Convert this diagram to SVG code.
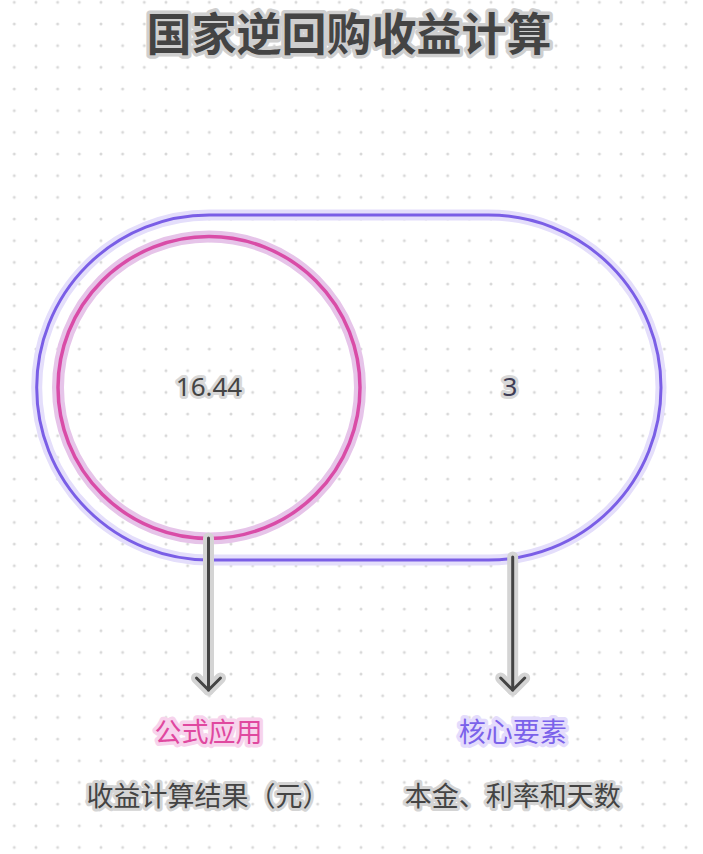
<svg xmlns="http://www.w3.org/2000/svg" width="703" height="854" viewBox="0 0 703 854">
<defs>
<pattern id="dots" patternUnits="userSpaceOnUse" x="3.47" y="-8.53" width="21.67" height="21.67">
<circle cx="10.83" cy="10.83" r="1.5" fill="#d8d8d8"/>
</pattern>
<style>
.t{font-family:"Noto Sans","Noto Sans CJK SC",sans-serif;text-anchor:middle;paint-order:stroke;stroke-linejoin:round}
.title{font-family:"Noto Sans CJK SC",sans-serif;font-weight:bold;font-size:45px;fill:#444;stroke:#cfcfcf;stroke-width:7px}
.num{font-size:26px;fill:#444;stroke:#d8d8d8;stroke-width:6px}
.lab{font-family:"Noto Sans CJK SC",sans-serif;font-size:27px}
.desc{fill:#444;stroke:#d4d4d4;stroke-width:6px}
.halo{fill:none;stroke-linecap:round;stroke-linejoin:round}
</style>
</defs>
<rect width="703" height="854" fill="#ffffff"/>
<rect width="703" height="854" fill="url(#dots)"/>
<text class="t title" x="349" y="51">国家逆回购收益计算</text>
<g id="outer">
<rect x="36.7" y="215" width="624.3" height="345" rx="172.5" fill="none" stroke="#e4defb" stroke-width="11"/>
<rect x="36.7" y="215" width="624.3" height="345" rx="172.5" fill="none" stroke="#7a5ee6" stroke-width="3"/>
<text class="t num" x="510" y="396" style="fill:#3f3d56">3</text>
</g>
<g id="inner">
<circle cx="209" cy="387.5" r="151" fill="none" stroke="#e6c4e9" stroke-width="12"/>
<circle cx="209" cy="387.5" r="151" fill="none" stroke="#d94ca7" stroke-width="3.5"/>
<text class="t num" x="209" y="396">16.44</text>
</g>
<g id="connectors">
<g class="halo" stroke="#d4d4d4" stroke-width="11">
<path d="M208.5 538V690"/>
<path d="M196.5 678L208.5 690L220.5 678"/>
<path d="M512.7 557V690"/>
<path d="M500.7 678L512.7 690L524.7 678"/>
</g>
<g class="halo" stroke="#444444" stroke-width="3">
<path d="M208.5 538V690"/>
<path d="M196.5 678L208.5 690L220.5 678"/>
<path d="M512.7 557V690"/>
<path d="M500.7 678L512.7 690L524.7 678"/>
</g>
</g>
<g id="label-left">
<text class="t lab" x="208.5" y="742" style="fill:#e0489f;stroke:#f7d3ec;stroke-width:7px">公式应用</text>
<text class="t lab desc" x="208" y="806">收益计算结果（元）</text>
</g>
<g id="label-right">
<text class="t lab" x="512.7" y="742" style="fill:#7b62ea;stroke:#e4dcfc;stroke-width:7px">核心要素</text>
<text class="t lab desc" x="512.7" y="806">本金、利率和天数</text>
</g>
</svg>
